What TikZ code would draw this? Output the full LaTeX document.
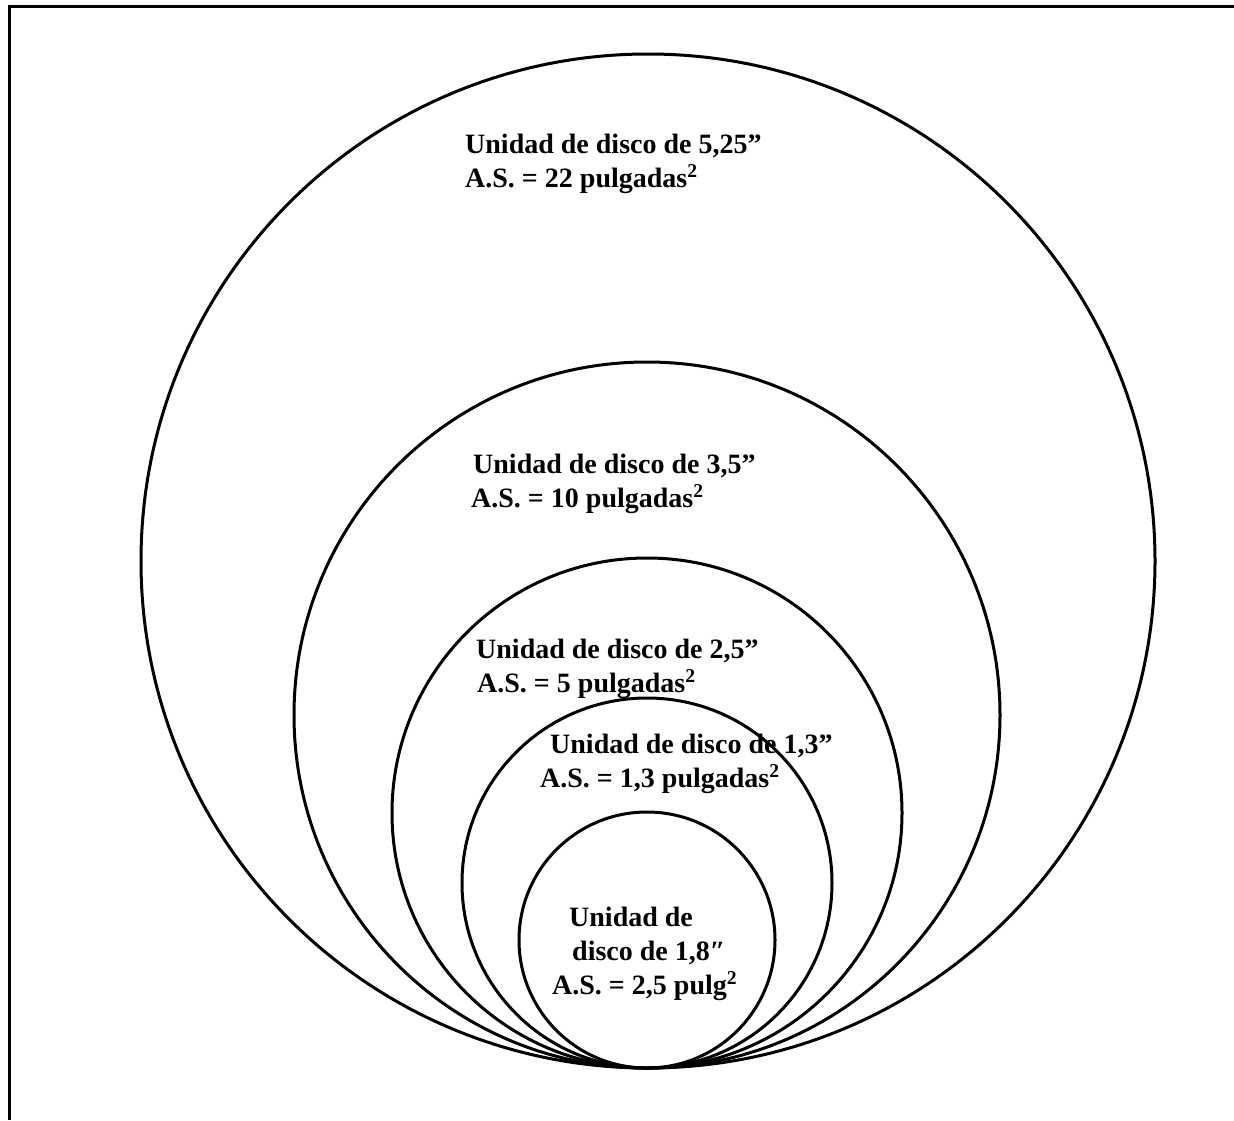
\documentclass[tikz,border=0pt]{standalone}
\usepackage{fontspec}
\setmainfont{Liberation Serif}
\begin{document}
\begin{tikzpicture}[x=1pt,y=-1pt,
  disc/.style={circle,draw,line width=3pt,inner sep=0pt,outer sep=0pt},
  lbl/.style={anchor=base west,align=left,inner sep=0pt,
    font=\fontsize{28}{34}\selectfont\bfseries}]
\useasboundingbox (0,0) rectangle (1234,1120);
\draw[line width=3pt] (9.3,1120) -- (9.3,6) -- (1234,6);
\node[disc,minimum size=1014pt] (c1) at (648,561) {};
\node[disc,minimum size=706pt] (c2) at (647,715) {};
\node[disc,minimum size=510pt] (c3) at (647,813) {};
\node[disc,minimum size=370pt] (c4) at (647,883) {};
\node[disc,minimum size=256pt] (c5) at (647,940) {};
\node[lbl] (t1) at (465,187) {Unidad de disco de 5,25”\\A.S. = 22 pulgadas\textsuperscript{2}};
\node[lbl] (t2) at (471,507) {\hspace*{2pt}Unidad de disco de 3,5”\\A.S. = 10 pulgadas\textsuperscript{2}};
\node[lbl] (t3) at (476,692) {Unidad de disco de 2,5”\\\hspace*{1pt}A.S. = 5 pulgadas\textsuperscript{2}};
\node[lbl] (t4) at (540,787) {\hspace*{10pt}Unidad de disco de 1,3”\\A.S. = 1,3 pulgadas\textsuperscript{2}};
\node[lbl] (t5) at (552,994) {\hspace*{17pt}Unidad de\\\hspace*{20pt}disco de 1,8″\\A.S. = 2,5 pulg\textsuperscript{2}};
\end{tikzpicture}
\end{document}
